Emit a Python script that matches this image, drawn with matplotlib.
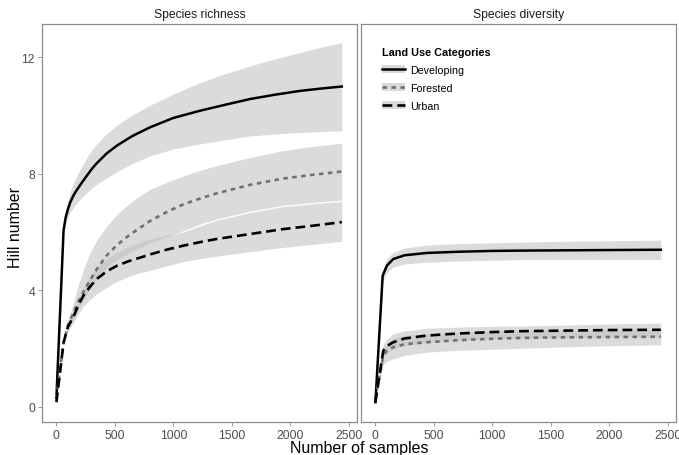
import matplotlib
matplotlib.use("Agg")
import matplotlib.pyplot as plt
from matplotlib.lines import Line2D
from matplotlib.patches import Patch

plt.rcParams["font.family"] = ["Liberation Sans", "DejaVu Sans"]

# ---------------------------------------------------------------------------
# Data (Hill number vs number of samples)
# ---------------------------------------------------------------------------

# Species richness
rich_dev_x = [1, 62, 80, 100, 119, 140, 160, 180, 210, 233, 260, 300, 340, 375, 430, 518,
              650, 802, 1000, 1229, 1450, 1655, 1870, 2082, 2260, 2440]
rich_dev_y = [0.3, 6.05, 6.5, 6.8, 7.02, 7.2, 7.35, 7.47, 7.65, 7.78, 7.93, 8.15, 8.34, 8.48,
              8.7, 8.97, 9.3, 9.6, 9.92, 10.17, 10.38, 10.57, 10.72, 10.85, 10.93, 11.0]
rich_dev_lo = [0.3, 6.0, 6.3, 6.5, 6.68, 6.8, 6.92, 7.02, 7.15, 7.25, 7.35, 7.5, 7.62, 7.72,
               7.85, 8.07, 8.35, 8.62, 8.85, 9.03, 9.17, 9.3, 9.37, 9.42, 9.45, 9.48]
rich_dev_hi = [0.3, 6.1, 6.7, 7.1, 7.4, 7.62, 7.8, 7.97, 8.2, 8.37, 8.55, 8.8, 9.0, 9.15,
               9.38, 9.67, 10.02, 10.36, 10.74, 11.14, 11.45, 11.71, 11.95, 12.17, 12.35, 12.51]

rich_for_x = [1, 62, 100, 148, 190, 233, 290, 350, 432, 518, 620, 717, 802, 950, 1086,
              1250, 1371, 1655, 1940, 2200, 2440]
rich_for_y = [0.3, 2.2, 2.8, 3.25, 3.62, 3.95, 4.35, 4.75, 5.2, 5.55, 5.88, 6.15, 6.38,
              6.7, 6.95, 7.18, 7.33, 7.62, 7.84, 7.97, 8.08]
rich_for_lo = [0.3, 2.2, 2.65, 3.0, 3.35, 3.68, 4.05, 4.42, 4.8, 5.05, 5.28, 5.47, 5.62,
               5.85, 6.05, 6.3, 6.45, 6.72, 6.92, 7.02, 7.1]
rich_for_hi = [0.3, 2.2, 2.95, 3.6, 4.2, 4.72, 5.3, 5.75, 6.2, 6.6, 6.97, 7.25, 7.47,
               7.72, 7.93, 8.15, 8.28, 8.56, 8.8, 8.95, 9.05]

rich_urb_x = [1, 62, 100, 148, 190, 233, 290, 350, 432, 518, 620, 717, 802, 950, 1086,
              1250, 1371, 1655, 1940, 2200, 2440]
rich_urb_y = [0.15, 2.2, 2.75, 3.1, 3.5, 3.82, 4.13, 4.4, 4.65, 4.84, 5.0, 5.12, 5.23,
              5.4, 5.53, 5.67, 5.76, 5.93, 6.1, 6.22, 6.34]
rich_urb_lo = [0.15, 2.2, 2.6, 2.9, 3.2, 3.45, 3.68, 3.88, 4.1, 4.3, 4.47, 4.6, 4.68,
               4.84, 4.98, 5.1, 5.17, 5.32, 5.47, 5.58, 5.68]
rich_urb_hi = [0.15, 2.2, 2.9, 3.3, 3.75, 4.1, 4.5, 4.8, 5.08, 5.3, 5.5, 5.65, 5.76,
               5.9, 6.0, 6.24, 6.4, 6.67, 6.87, 6.97, 7.05]

# Species diversity
div_dev_x = [1, 63, 100, 153, 250, 438, 700, 1000, 1233, 1600, 2000, 2440]
div_dev_y = [0.15, 4.5, 4.85, 5.07, 5.2, 5.28, 5.32, 5.35, 5.36, 5.37, 5.38, 5.39]
div_dev_lo = [0.15, 4.3, 4.6, 4.79, 4.9, 4.96, 5.0, 5.03, 5.05, 5.05, 5.05, 5.05]
div_dev_hi = [0.15, 4.7, 5.1, 5.3, 5.45, 5.55, 5.6, 5.63, 5.65, 5.68, 5.7, 5.72]

div_for_x = [1, 68, 100, 153, 250, 438, 700, 1000, 1233, 1600, 2000, 2440]
div_for_y = [0.3, 1.75, 1.92, 2.04, 2.14, 2.21, 2.28, 2.33, 2.36, 2.38, 2.39, 2.40]
div_for_lo = [0.3, 1.45, 1.55, 1.64, 1.76, 1.87, 1.93, 1.97, 2.0, 2.05, 2.09, 2.12]
div_for_hi = [0.3, 2.0, 2.2, 2.35, 2.45, 2.5, 2.55, 2.6, 2.62, 2.63, 2.64, 2.65]

div_urb_x = [1, 68, 100, 153, 250, 438, 700, 1000, 1233, 1600, 2000, 2440]
div_urb_y = [0.15, 1.92, 2.08, 2.21, 2.34, 2.44, 2.51, 2.56, 2.59, 2.61, 2.63, 2.64]
div_urb_lo = [0.15, 1.7, 1.85, 1.98, 2.1, 2.2, 2.27, 2.32, 2.35, 2.37, 2.39, 2.40]
div_urb_hi = [0.15, 2.15, 2.32, 2.5, 2.6, 2.69, 2.73, 2.76, 2.77, 2.8, 2.84, 2.87]

categories = ["Developing", "Forested", "Urban"]
panel_titles = ["Species richness", "Species diversity"]
x_ticks = [0, 500, 1000, 1500, 2000, 2500]
y_ticks = [0, 4, 8, 12]

# ---------------------------------------------------------------------------
# Styling
# ---------------------------------------------------------------------------

STYLES = {
    "Developing": dict(color="black", linestyle="-", linewidth=1.8),
    "Forested":   dict(color="#707070", linestyle=(0, (1.7, 1.7)), linewidth=1.9),
    "Urban":      dict(color="black", linestyle=(0, (3.7, 1.9)), linewidth=1.9),
}
BAND = dict(color="#BEBEBE", alpha=0.55, linewidth=0)
FRAME = "#8C8C8C"
TICK_TXT = "#4D4D4D"

panels = [
    [
        ("Developing", rich_dev_x, rich_dev_y, rich_dev_lo, rich_dev_hi),
        ("Forested", rich_for_x, rich_for_y, rich_for_lo, rich_for_hi),
        ("Urban", rich_urb_x, rich_urb_y, rich_urb_lo, rich_urb_hi),
    ],
    [
        ("Developing", div_dev_x, div_dev_y, div_dev_lo, div_dev_hi),
        ("Forested", div_for_x, div_for_y, div_for_lo, div_for_hi),
        ("Urban", div_urb_x, div_urb_y, div_urb_lo, div_urb_hi),
    ],
]

fig = plt.figure(figsize=(6.79, 4.56), dpi=100)
axes = [
    fig.add_axes([0.0619, 0.0724, 0.4639, 0.8728]),
    fig.add_axes([0.5317, 0.0724, 0.4639, 0.8728]),
]

for i, ax in enumerate(axes):
    for name, xs, ys, lo, hi in panels[i]:
        ax.fill_between(xs, lo, hi, **BAND)
    for name, xs, ys, lo, hi in panels[i]:
        ax.plot(xs, ys, **STYLES[name])

    ax.set_xlim(-122, 2570)
    ax.set_ylim(-0.53, 13.15)
    ax.set_xticks(x_ticks)
    ax.set_yticks(y_ticks)
    ax.tick_params(direction="out", length=3, width=0.6, color=FRAME,
                   labelsize=8.8, labelcolor=TICK_TXT, pad=2)
    for sp in ax.spines.values():
        sp.set_color(FRAME)
        sp.set_linewidth(0.9)
    ax.set_title(panel_titles[i], fontsize=8.7, pad=5, color="#1A1A1A")
    if i == 1:
        ax.tick_params(axis="y", left=False, labelleft=False)

fig.text(16 / 679, 0.5, "Hill number", fontsize=11.5, rotation=90,
         ha="center", va="center")
fig.text(359 / 679, 0.007, "Number of samples", fontsize=11.5,
         ha="center", va="baseline")

handles = []
for name in categories:
    handles.append((Patch(facecolor="#D9D9D9", edgecolor="none"),
                    Line2D([], [], **STYLES[name])))
leg = axes[1].legend(handles, categories, loc="upper left",
                     bbox_to_anchor=(0.068, 0.943), frameon=False,
                     title="Land Use Categories", fontsize=7.7,
                     title_fontproperties={"weight": "bold", "size": 7.8},
                     handlelength=2.1, handletextpad=0.5, labelspacing=0.75,
                     borderaxespad=0.0, borderpad=0.0)
leg._legend_box.align = "left"

fig.savefig("out.png", dpi=100)
